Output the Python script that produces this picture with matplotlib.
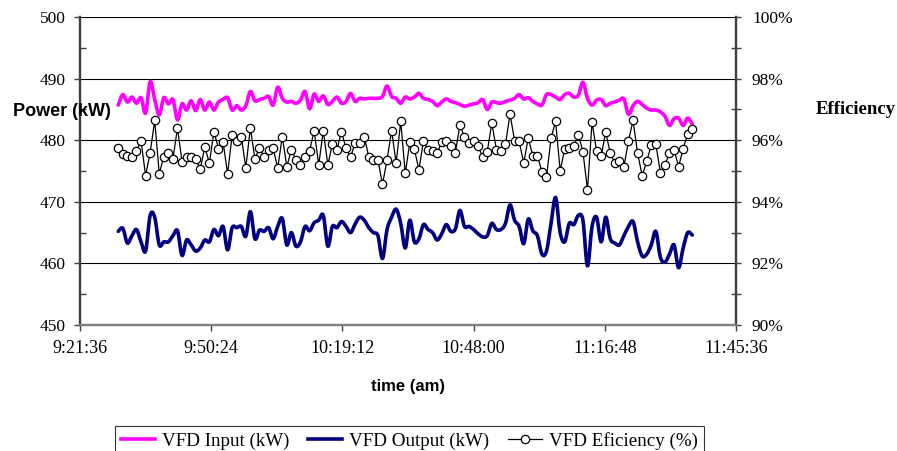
import numpy as np
import matplotlib
matplotlib.use('Agg')
import matplotlib.pyplot as plt
from matplotlib.lines import Line2D
from matplotlib.path import Path
from matplotlib.patches import PathPatch
from matplotlib.ticker import FixedLocator, MultipleLocator, FuncFormatter

plt.rcParams['font.family'] = ['Liberation Serif', 'DejaVu Serif']

# one reading per minute, starting 9:30 (time as fraction of a day)
start_time = 9.5 / 24
step = 1 / 1440

vfd_input = [
    485.7, 487.4, 486.2, 487.0, 486.0, 486.9, 484.4, 489.5, 486.6, 484.1,
    486.9, 485.9, 486.6, 483.3, 485.9, 484.9, 486.4, 484.8, 486.6, 484.9,
    486.2, 484.9, 486.2, 486.6, 486.9, 484.9, 485.6, 484.9, 485.6, 487.9,
    486.4, 486.6, 486.8, 487.1, 485.7, 488.6, 486.8, 486.2, 486.3, 486.0,
    486.5, 487.9, 485.1, 487.5, 486.3, 487.2, 485.8, 486.3, 487.0, 486.0,
    486.3, 487.6, 486.3, 486.8, 486.7, 486.8, 486.8, 486.8, 487.1, 488.8,
    487.1, 486.8, 486.0, 487.0, 486.7, 487.0, 487.6, 486.8, 486.6, 486.3,
    485.6, 486.2, 486.7, 486.3, 486.1, 485.8, 485.5, 485.7, 485.9, 486.1,
    486.6, 485.0, 486.2, 486.1, 486.0, 486.3, 486.5, 486.8, 487.4, 486.7,
    486.9, 486.3, 485.9, 485.7, 487.4, 487.4, 487.0, 486.6, 487.4, 487.6,
    487.0, 487.3, 489.4, 486.8, 485.7, 486.5, 486.6, 485.6, 486.0, 486.2,
    486.5, 486.7, 484.2, 485.6, 486.3, 485.8, 485.2, 484.9, 484.9, 484.6,
    483.9, 482.4, 483.5, 483.6, 482.4, 483.6, 482.6,
]

vfd_output = [
    465.2, 465.7, 463.3, 464.5, 465.5, 463.5, 462.0, 467.8, 467.5, 463.0,
    463.5, 463.5, 464.5, 465.3, 461.3, 463.8, 463.0, 462.0, 462.5, 463.8,
    463.5, 465.5, 464.5, 466.0, 462.2, 465.8, 465.8, 466.0, 464.4, 468.4,
    464.0, 465.4, 465.2, 465.8, 464.0, 466.0, 467.3, 463.0, 465.0, 462.8,
    463.5, 466.0, 465.3, 466.6, 467.0, 467.8, 462.8, 466.0, 465.8, 466.8,
    466.0, 465.0, 466.4, 467.5, 467.0, 465.8, 465.0, 464.5, 460.8, 465.5,
    467.5, 468.8, 466.5, 462.5, 467.0, 463.5, 464.0, 466.3, 465.5, 465.0,
    463.8, 464.8, 466.3, 465.2, 465.6, 468.6, 466.0, 466.0, 465.5, 464.8,
    464.3, 464.5, 466.5, 465.5, 465.5, 466.5, 469.5, 467.0, 466.0, 463.2,
    467.2, 465.3, 464.5, 461.5, 462.0, 466.5, 470.7, 465.0, 463.5, 466.5,
    466.3, 467.8, 467.0, 459.6, 466.0, 467.5, 463.5, 467.5, 464.0, 463.3,
    463.0, 464.5, 466.0, 466.8, 463.5, 461.2, 461.5, 463.0, 465.2, 461.0,
    460.2, 461.5, 463.0, 459.3, 462.5, 465.0, 464.6,
]

vfd_efficiency = [
    95.74, 95.55, 95.49, 95.45, 95.65, 95.98, 94.85, 95.60, 96.64, 94.91,
    95.47, 95.60, 95.39, 96.40, 95.30, 95.45, 95.45, 95.39, 95.06, 95.78,
    95.26, 96.28, 95.73, 95.94, 94.91, 96.17, 95.96, 96.12, 95.11, 96.40,
    95.39, 95.75, 95.47, 95.69, 95.74, 95.09, 96.12, 95.14, 95.69, 95.36,
    95.20, 95.47, 95.66, 96.31, 95.20, 96.31, 95.20, 95.87, 95.69, 96.28,
    95.74, 95.45, 95.92, 95.91, 96.12, 95.45, 95.36, 95.36, 94.57, 95.36,
    96.31, 95.26, 96.61, 94.92, 95.94, 95.71, 95.04, 95.98, 95.69, 95.65,
    95.58, 95.94, 95.98, 95.82, 95.60, 96.50, 96.10, 95.92, 95.96, 95.82,
    95.44, 95.63, 96.56, 95.69, 95.65, 95.87, 96.85, 95.98, 95.96, 95.26,
    96.07, 95.49, 95.49, 94.98, 94.80, 96.07, 96.61, 95.01, 95.71, 95.76,
    95.82, 96.17, 95.63, 94.39, 96.59, 95.65, 95.49, 96.26, 95.58, 95.26,
    95.31, 95.14, 95.98, 96.64, 95.58, 94.85, 95.31, 95.85, 95.87, 94.95,
    95.20, 95.58, 95.69, 95.14, 95.72, 96.21, 96.37,
]

time_ticks = [0.39, 0.41, 0.43, 0.45, 0.47, 0.49]

t = start_time + step * np.arange(len(vfd_input))


def fmt_time(x, pos=None):
    secs = int(round(x * 86400))
    return f"{secs // 3600}:{(secs % 3600) // 60:02d}:{secs % 60:02d}"


def smooth_path(x, y):
    # smoothed line: cubic Bezier segments through every point (Catmull-Rom style)
    p = np.column_stack([x, y])
    ext = np.vstack([p[0], p, p[-1]])
    verts = [p[0]]
    codes = [Path.MOVETO]
    for i in range(len(p) - 1):
        p0, p1, p2, p3 = ext[i], ext[i + 1], ext[i + 2], ext[i + 3]
        verts += [p1 + (p2 - p0) / 6, p2 - (p3 - p1) / 6, p2]
        codes += [Path.CURVE4] * 3
    return Path(verts, codes)


fig = plt.figure(figsize=(8.97, 4.51), dpi=100)
ax = fig.add_axes([80 / 897, 1 - 325 / 451, 656 / 897, 308 / 451])
ax2 = ax.twinx()

line_w = 2.6
ax.add_patch(PathPatch(smooth_path(t, vfd_input), fill=False,
                       edgecolor='#ff00ff', lw=line_w, capstyle='round',
                       joinstyle='round'))
ax.add_patch(PathPatch(smooth_path(t, vfd_output), fill=False,
                       edgecolor='#000080', lw=line_w, capstyle='round',
                       joinstyle='round'))
l3, = ax2.plot(t, vfd_efficiency, color='black', lw=0.9, marker='o', ms=6,
               mfc='white', mec='black', mew=0.9, label='VFD Eficiency (%)')

ax.set_xlim(0.39, 0.49)
ax.set_ylim(450, 500)
ax2.set_ylim(90, 100)

ax.xaxis.set_major_locator(FixedLocator(time_ticks))
ax.xaxis.set_major_formatter(FuncFormatter(fmt_time))
ax.yaxis.set_major_locator(MultipleLocator(10))
ax.yaxis.set_minor_locator(MultipleLocator(5))
ax2.yaxis.set_major_locator(MultipleLocator(2))
ax2.yaxis.set_minor_locator(MultipleLocator(1))
ax2.yaxis.set_major_formatter(FuncFormatter(lambda v, p: f"{v:.0f}%"))

ax.grid(True, axis='y', which='major', color='black', lw=0.8)
ax.set_axisbelow(True)

for a in (ax, ax2):
    a.spines['top'].set_visible(False)
    a.spines['left'].set_color('#404040')
    a.spines['right'].set_color('#404040')
    a.spines['left'].set_linewidth(1.6)
    a.spines['right'].set_linewidth(1.6)
    a.spines['bottom'].set_color('#808080')
    a.spines['bottom'].set_linewidth(1.6)

ax.tick_params(axis='y', which='major', direction='out', length=4.5, width=1,
               color='#404040', labelsize=12.5, pad=6)
ax.tick_params(axis='y', which='minor', direction='in', length=4, width=1,
               color='#404040')
ax.tick_params(axis='x', which='major', direction='out', length=4, width=1,
               color='#404040', labelsize=13, pad=7)
ax2.tick_params(axis='y', which='major', direction='out', length=3.5, width=1,
                color='#404040', labelsize=12.5, pad=8)
ax2.tick_params(axis='y', which='minor', direction='inout', length=7, width=1,
                color='#404040')

fig.text(13 / 897, 1 - 112 / 451, 'Power (kW)', family='Liberation Sans',
         fontweight='bold', fontsize=13, ha='left', va='center')
fig.text(816 / 897, 1 - 110 / 451, 'Efficiency', family='Liberation Serif',
         fontweight='bold', fontsize=13.5, ha='left', va='center')
fig.text(408 / 897, 1 - 386 / 451, 'time (am)', family='Liberation Sans',
         fontweight='bold', fontsize=12, ha='center', va='center')

h1 = Line2D([], [], color='#ff00ff', lw=line_w, label='VFD Input (kW)')
h2 = Line2D([], [], color='#000080', lw=line_w, label='VFD Output (kW)')
leg = fig.legend(handles=[h1, h2, l3], loc='upper left',
                 bbox_to_anchor=(115 / 897, 1 - 426 / 451), ncol=3,
                 fontsize=13.7, frameon=True, fancybox=False, edgecolor='black',
                 handlelength=1.8, handletextpad=0.35, columnspacing=1.0,
                 borderpad=0.3, borderaxespad=0)
leg.get_frame().set_linewidth(0.8)

fig.savefig('out.png', dpi=100)
